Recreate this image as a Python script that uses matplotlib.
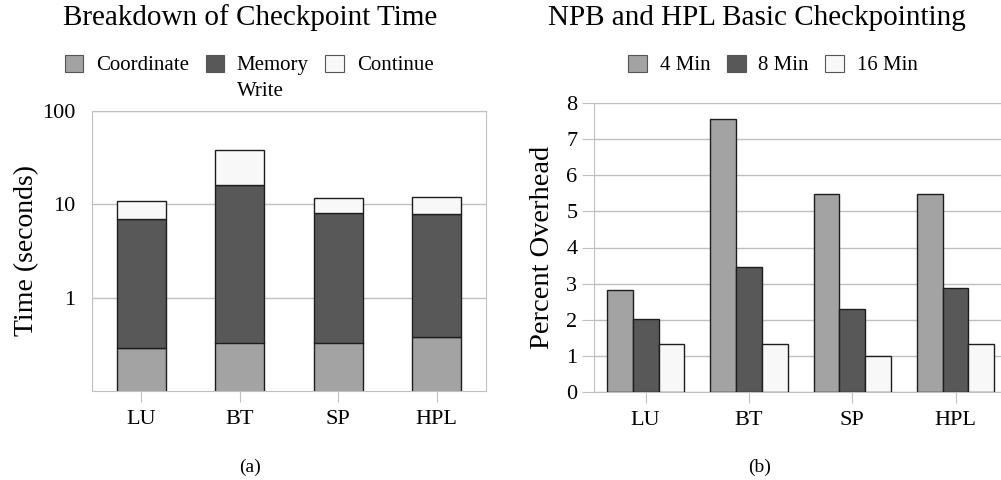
import numpy as np
import matplotlib
matplotlib.use("Agg")
import matplotlib.pyplot as plt

plt.rcParams['font.family'] = ['Liberation Serif', 'DejaVu Serif']

# data
benchmarks = ["LU", "BT", "SP", "HPL"]
coordinate = [0.29, 0.33, 0.33, 0.38]
memory_write = [6.6, 15.6, 7.7, 7.5]
continue_time = [4.1, 22.0, 3.8, 4.2]

interval_labels = ["4 Min", "8 Min", "16 Min"]
overhead_4 = [2.82, 7.55, 5.47, 5.47]
overhead_8 = [2.03, 3.47, 2.30, 2.88]
overhead_16 = [1.34, 1.33, 0.99, 1.32]

light = "#a3a3a3"
dark = "#585858"
white = "#f8f8f8"
edge = "#1e1e1e"
grid = "#c0c0c0"

W, H = 1001, 480
fig = plt.figure(figsize=(W / 100, H / 100), dpi=100)


def px_axes(x0, y0, x1, y1):
    return fig.add_axes([x0 / W, 1 - y1 / H, (x1 - x0) / W, (y1 - y0) / H])


def style_legend(leg):
    for h in leg.legend_handles:
        h.set_edgecolor("#555555")
        h.set_linewidth(0.8)


# ----- (a) stacked log bars -----
ax1 = px_axes(92, 111, 486, 391)
x = np.arange(len(benchmarks))
bottom2 = np.array(coordinate)
bottom3 = bottom2 + np.array(memory_write)
b1 = ax1.bar(x, coordinate, 0.5, bottom=0.001, color=light, edgecolor=edge, linewidth=1, zorder=3)
b2 = ax1.bar(x, memory_write, 0.5, bottom=bottom2, color=dark, edgecolor=edge, linewidth=1, zorder=3)
b3 = ax1.bar(x, continue_time, 0.5, bottom=bottom3, color=white, edgecolor=edge, linewidth=1, zorder=3)
ax1.set_yscale("log")
ax1.set_ylim(0.1, 100)
ax1.set_xlim(-0.5, 3.5)
ax1.set_yticks([1, 10, 100])
ax1.set_yticklabels(["1", "10", "100"])
ax1.yaxis.set_minor_locator(matplotlib.ticker.NullLocator())
ax1.set_xticks(x)
ax1.set_xticklabels(benchmarks)
ax1.tick_params(axis="y", length=0, pad=12, labelsize=16)
ax1.tick_params(axis="x", length=8, color=grid, pad=6, labelsize=16)
ax1.grid(axis="y", color=grid, linewidth=1, zorder=0)
for s in ax1.spines.values():
    s.set_color(grid)
ax1.set_ylabel("Time (seconds)", fontsize=20, labelpad=2)
fig.text(250 / W, 1 - 18 / H, "Breakdown of Checkpoint Time", ha="center", va="center", fontsize=21)
leg1 = ax1.legend([b1, b2, b3], ["Coordinate", "Memory", "Continue"], ncol=3,
                  loc="center", bbox_to_anchor=(249 / W, 1 - 65 / H),
                  bbox_transform=fig.transFigure, frameon=False,
                  fontsize=15, handlelength=0.9, handleheight=0.9, handletextpad=0.6,
                  columnspacing=0.8)
style_legend(leg1)
fig.canvas.draw()
mem_box = leg1.get_texts()[1].get_window_extent()
fig.text(mem_box.x0 / W, (mem_box.y0 - 26) / H, "Write", ha="left", va="bottom", fontsize=15)
fig.text(250 / W, 1 - 467 / H, "(a)", ha="center", va="center", fontsize=14)

# ----- (b) grouped bars -----
ax2 = px_axes(594, 103, 1001, 392)
w = 0.25
c1 = ax2.bar(x - w, overhead_4, w, color=light, edgecolor=edge, linewidth=1, zorder=3)
c2 = ax2.bar(x, overhead_8, w, color=dark, edgecolor=edge, linewidth=1, zorder=3)
c3 = ax2.bar(x + w, overhead_16, w, color=white, edgecolor=edge, linewidth=1, zorder=3)
ax2.set_ylim(0, 8)
ax2.set_xlim(-0.5, 3.44)
ax2.set_yticks(range(0, 9))
ax2.set_xticks(x)
ax2.set_xticklabels(benchmarks)
ax2.tick_params(axis="y", length=9, color=grid, pad=3, labelsize=16)
ax2.tick_params(axis="x", length=8, color=grid, pad=6, labelsize=16)
ax2.grid(axis="y", color=grid, linewidth=1, zorder=0)
ax2.spines["top"].set_visible(False)
ax2.spines["right"].set_visible(False)
ax2.spines["left"].set_color(grid)
ax2.spines["bottom"].set_color(grid)
ax2.set_ylabel("Percent Overhead", fontsize=20.5, labelpad=8)
fig.text(757 / W, 1 - 18 / H, "NPB and HPL Basic Checkpointing", ha="center", va="center", fontsize=21)
leg2 = ax2.legend([c1, c2, c3], interval_labels, ncol=3, loc="center",
                  bbox_to_anchor=(773 / W, 1 - 65 / H), bbox_transform=fig.transFigure,
                  frameon=False, fontsize=15, handlelength=0.9, handleheight=0.9,
                  handletextpad=0.6, columnspacing=0.8)
style_legend(leg2)
fig.text(760 / W, 1 - 467 / H, "(b)", ha="center", va="center", fontsize=14)

fig.savefig("out.png", dpi=100)
